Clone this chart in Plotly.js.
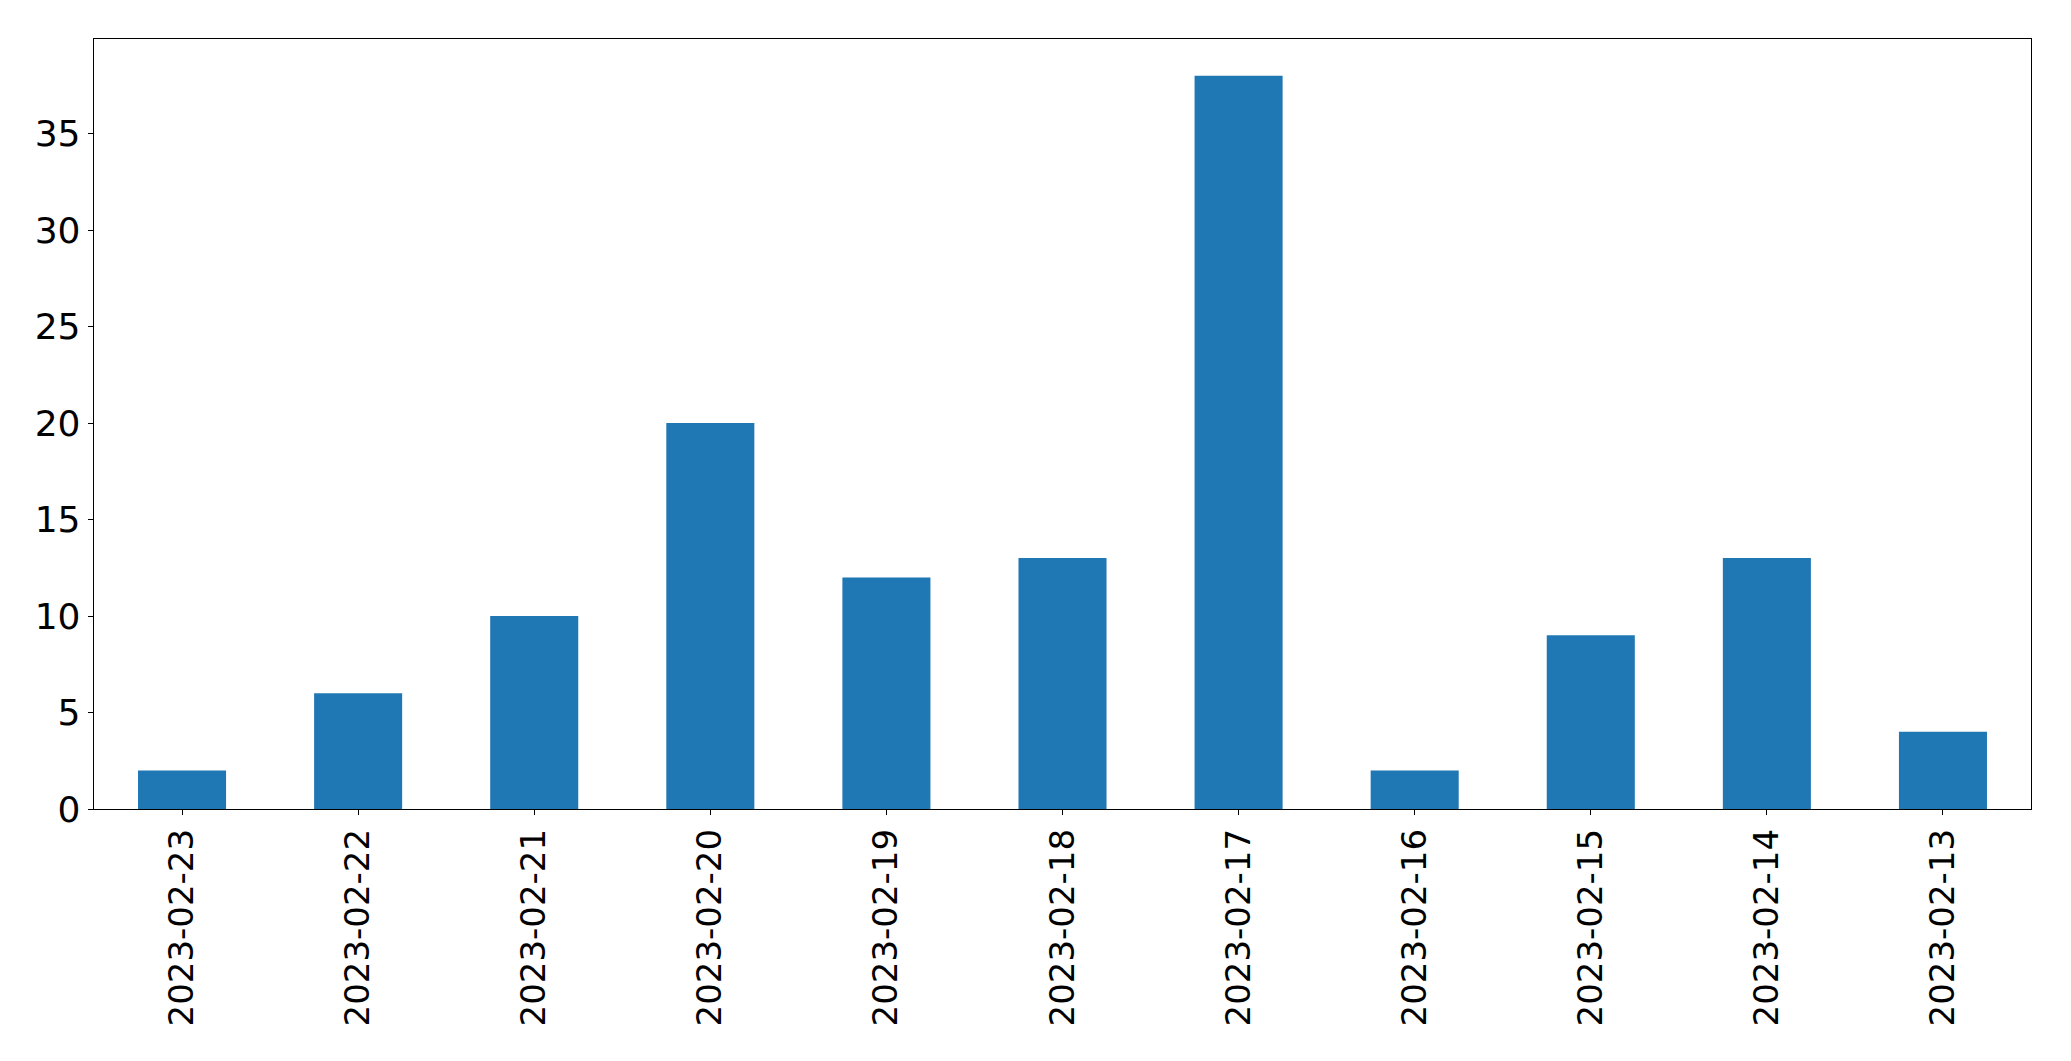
<!DOCTYPE html>
<html>
<head>
<meta charset="utf-8">
<script src="https://cdn.plot.ly/plotly-3.0.1.min.js"></script>
<style>html,body{margin:0;padding:0;background:#fff;}#chart{width:2071px;height:1061px;}</style>
</head>
<body>
<div id="chart"></div>
<script>
const dates = ["2023-02-23","2023-02-22","2023-02-21","2023-02-20","2023-02-19","2023-02-18","2023-02-17","2023-02-16","2023-02-15","2023-02-14","2023-02-13"];
const counts = [2, 6, 10, 20, 12, 13, 38, 2, 9, 13, 4];
const yTicks = [0, 5, 10, 15, 20, 25, 30, 35];

const trace = {
  type: 'bar',
  x: dates,
  y: counts,
  width: 0.5,
  marker: {color: '#1f77b4', line: {width: 0}},
  hoverinfo: 'x+y'
};

const layout = {
  width: 2071,
  height: 1061,
  margin: {l: 94, r: 40, t: 39, b: 252, pad: 0},
  paper_bgcolor: '#ffffff',
  plot_bgcolor: '#ffffff',
  showlegend: false,
  font: {family: 'DejaVu Sans, sans-serif', size: 35, color: '#000000'},
  bargap: 0.5,
  xaxis: {
    type: 'category',
    range: [-0.5, 10.5],
    tickangle: -90,
    ticks: 'outside',
    ticklen: 5,
    tickwidth: 1,
    tickcolor: '#000',
    showline: true,
    linecolor: '#000',
    linewidth: 1.3,
    mirror: true,
    showgrid: false,
    zeroline: false,
    ticklabelstandoff: 0,
    tickfont: {family: 'DejaVu Sans, sans-serif', size: 34, color: '#000'}
  },
  yaxis: {
    range: [0, 39.9],
    tickvals: yTicks,
    ticktext: yTicks.map(String),
    ticks: 'outside',
    ticklen: 5,
    tickwidth: 1,
    tickcolor: '#000',
    showline: true,
    linecolor: '#000',
    linewidth: 1.3,
    mirror: true,
    showgrid: false,
    zeroline: false,
    ticklabelstandoff: 0,
    tickfont: {family: 'DejaVu Sans, sans-serif', size: 36, color: '#000'}
  }
};

Plotly.newPlot('chart', [trace], layout, {displayModeBar: false, staticPlot: true});
</script>
</body>
</html>
